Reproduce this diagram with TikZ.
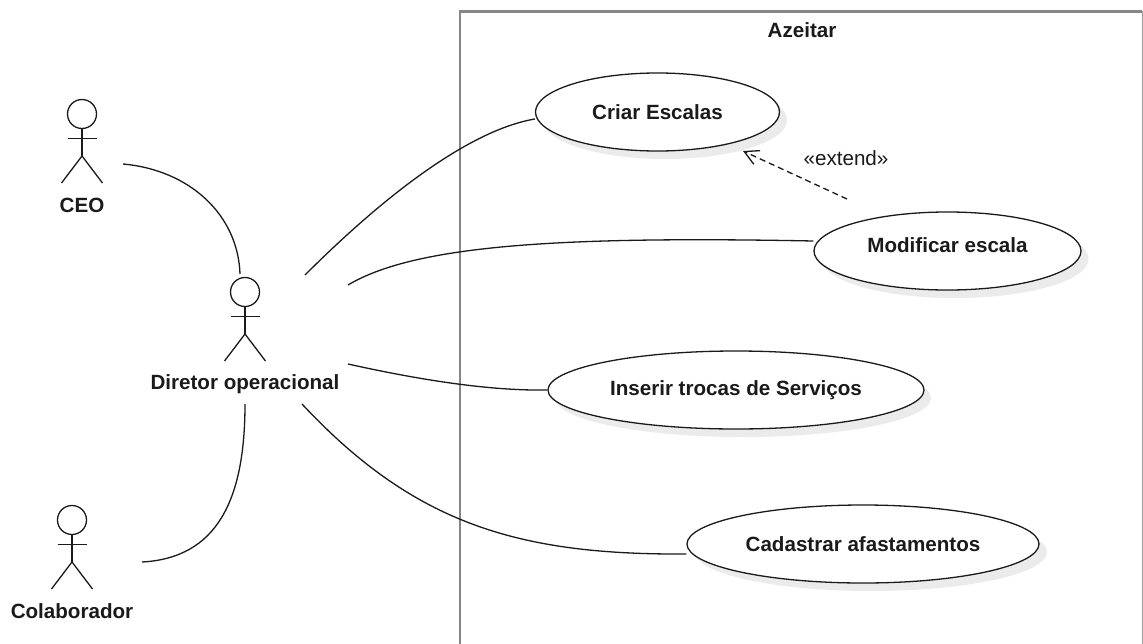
\documentclass[tikz,border=0pt]{standalone}
\usepackage{fontspec}
\setmainfont{Liberation Sans}
\definecolor{ink}{HTML}{1A1A1A}
\definecolor{shadowgray}{HTML}{EBEBEB}
\definecolor{frame}{HTML}{868686}
\usetikzlibrary{shapes.geometric,arrows.meta}
\tikzset{
 usecase/.style={ellipse,draw=ink,fill=white,line width=1.3pt,inner sep=0pt,font=\fontsize{20.6}{22}\selectfont\bfseries,text=ink},
 shade/.style={ellipse,fill=shadowgray,draw=none,inner sep=0pt},
 link/.style={draw=ink,line width=1.3pt},
 figure/.style={draw=ink,line width=1.3pt},
 lbl/.style={font=\fontsize{20.6}{22}\selectfont\bfseries,text=ink,inner sep=0pt},
}
\newcommand{\stick}[2]{%
 \draw[figure] (#1,#2) circle (14.5pt);
 \draw[figure] (#1,#2+14.5) -- (#1,#2+42);
 \draw[figure] (#1-14.5,#2+24.5) -- (#1+14.5,#2+24.5);
 \draw[figure] (#1-20.5,#2+69) -- (#1,#2+42) -- (#1+20.5,#2+69);
}
\begin{document}
\begin{tikzpicture}[x=1pt,y=-1pt]
\useasboundingbox (0,0) rectangle (1143,643);
\fill[white] (0,0) rectangle (1143,643);
\begin{scope}
\clip (0,0) rectangle (1143,643);
\draw[frame,line width=2.6pt] (460,650) -- (460,11);
\draw[frame,line width=3pt] (458.7,11) -- (1142,11);
\draw[frame!80,line width=1.4pt] (1142.6,11) -- (1142.6,650);
\end{scope}
\node[lbl] (title) at (802,30) {Azeitar};
\node[shade,minimum width=244pt,minimum height=78pt] (s1) at (665,120) {};
\node[shade,minimum width=267pt,minimum height=78pt] (s2) at (955,259) {};
\node[shade,minimum width=376pt,minimum height=78pt] (s3) at (743,398) {};
\node[shade,minimum width=352pt,minimum height=78pt] (s4) at (871,552) {};
\node[usecase,minimum width=244pt,minimum height=78pt] (criar) at (657.5,112) {Criar Escalas};
\node[usecase,minimum width=267pt,minimum height=78pt] (mod) at (947.5,251) {\raisebox{12pt}{Modificar escala}};
\node[usecase,minimum width=376pt,minimum height=78pt] (ins) at (736,390) {Inserir trocas de Serviços};
\node[usecase,minimum width=352pt,minimum height=78pt] (cad) at (863,544) {Cadastrar afastamentos};
\stick{82}{114}
\stick{245}{292}
\stick{72}{520}
\node[lbl] (ceo) at (82,205) {CEO};
\node[lbl] (dir) at (245,384.5) {Diretor operacional};
\node[lbl] (col) at (72,611) {Colaborador};
\coordinate (c1) at (123,164);
\coordinate (c2) at (240,274);
\coordinate (d1) at (305,275);
\coordinate (d2) at (348,285);
\coordinate (d3) at (348,364);
\coordinate (d4) at (302,404);
\coordinate (d5) at (245,404);
\coordinate (c3) at (142,562);
\coordinate (e1) at (847,199);
\coordinate (e2) at (743,151);
\draw[link] (c1) .. controls (190,170) and (238,215) .. (c2);
\draw[link] (d1) .. controls (385,195) and (470,130) .. (criar.west|-0,119);
\draw[link] (d2) .. controls (415,245) and (560,236) .. (mod.west|-0,241);
\draw[link] (d3) .. controls (420,380) and (490,391) .. (ins.west);
\draw[link] (d4) .. controls (415,525) and (520,555) .. (cad.west|-0,554);
\draw[link] (d5) .. controls (245,500) and (217,558) .. (c3);
\draw[draw=ink,line width=1.3pt,dash pattern=on 6pt off 4pt,-{Straight Barb[length=14pt,width=15pt]}] (e1) -- (e2);
\node[font=\fontsize{20.6}{22}\selectfont,text=ink,inner sep=0pt] (ext) at (846,158) {«extend»};
\end{tikzpicture}
\end{document}
